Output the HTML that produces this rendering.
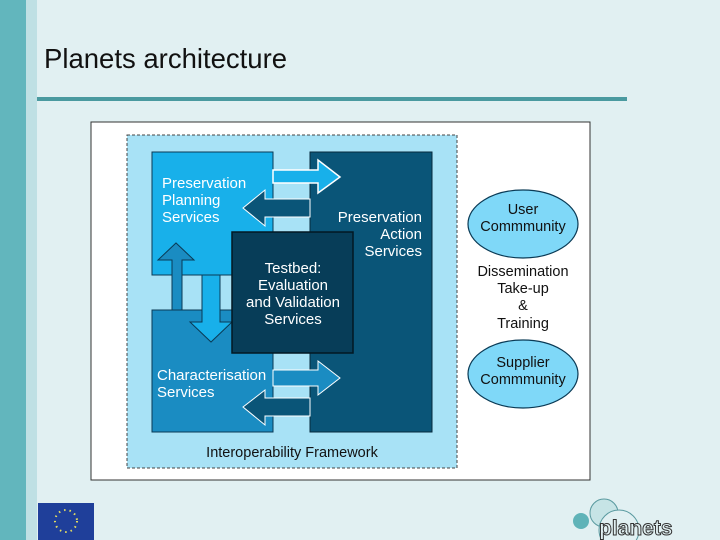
<!DOCTYPE html>
<html><head><style>
html,body{margin:0;padding:0;}
body{width:720px;height:540px;background:#e1f0f2;position:relative;overflow:hidden;font-family:"Liberation Sans",sans-serif;}
</style></head><body>
<div style="position:absolute;left:0;top:0;width:26px;height:540px;background:#62b6bd"></div>
<div style="position:absolute;left:26px;top:0;width:11px;height:540px;background:#bfe0e4"></div>
<div style="position:absolute;left:44px;top:43px;font-size:27.5px;color:#111">Planets architecture</div>
<div style="position:absolute;left:37px;top:97px;width:590px;height:4px;background:#4a9aa0"></div>
<svg style="position:absolute;left:0;top:0" width="720" height="540" font-family="Liberation Sans, sans-serif">
<rect x="91" y="122" width="499" height="358" fill="#fff" stroke="#333" stroke-width="1"/>
<rect x="127" y="135" width="330" height="333" fill="#a8e2f6" stroke="#444" stroke-width="1" stroke-dasharray="3,2"/>
<path d="M152 152 H273 V232 H232 V275 H152 Z" fill="#18b0ea" stroke="#0a3a55" stroke-width="1"/>
<path d="M152 310 H232 V353 H273 V432 H152 Z" fill="#1a8cc2" stroke="#0a3a55" stroke-width="1"/>
<rect x="310" y="152" width="122" height="280" fill="#0a5578" stroke="#062a3d" stroke-width="1"/>
<path d="M273 170 H318 V160 L340 177 L318 193 V183 H273 Z" fill="#18b0ea" stroke="#fff" stroke-width="1.5"/>
<path d="M310 199 H265 V190 L243 208 L265 226 V217 H310 Z" fill="#0a5578" stroke="#fff" stroke-width="1"/>
<path d="M273 370 H318 V361 L340 378 L318 395 V386 H273 Z" fill="#1a8cc2" stroke="#fff" stroke-width="1"/>
<path d="M310 398 H265 V390 L243 407 L265 425 V416 H310 Z" fill="#0a5578" stroke="#fff" stroke-width="1"/>
<path d="M172 310 V260 H158 L176 243 L194 260 H182 V310 Z" fill="#1a8cc2" stroke="#0a3a55" stroke-width="1"/>
<path d="M202 275 V322 H190 L211 342 L232 322 H220 V275 Z" fill="#18b0ea" stroke="#0a3a55" stroke-width="1"/>
<rect x="232" y="232" width="121" height="121" fill="#073d58" stroke="#021822" stroke-width="1.5"/>
<g fill="#fff" font-size="15">
<text x="162" y="188">Preservation</text>
<text x="162" y="205">Planning</text>
<text x="162" y="222">Services</text>
<text x="422" y="222" text-anchor="end">Preservation</text>
<text x="422" y="239" text-anchor="end">Action</text>
<text x="422" y="256" text-anchor="end">Services</text>
<text x="293" y="273" text-anchor="middle">Testbed:</text>
<text x="293" y="290" text-anchor="middle">Evaluation</text>
<text x="293" y="307" text-anchor="middle">and Validation</text>
<text x="293" y="324" text-anchor="middle">Services</text>
<text x="157" y="380">Characterisation</text>
<text x="157" y="397">Services</text>
</g>
<text x="292" y="457" text-anchor="middle" font-size="14.5" fill="#111">Interoperability Framework</text>
<ellipse cx="523" cy="224" rx="55" ry="34" fill="#7fd8f8" stroke="#0a3a55" stroke-width="1.2"/>
<ellipse cx="523" cy="374" rx="55" ry="34" fill="#7fd8f8" stroke="#0a3a55" stroke-width="1.2"/>
<g font-size="14.5" fill="#111" text-anchor="middle">
<text x="523" y="214">User</text>
<text x="523" y="231">Commmunity</text>
<text x="523" y="276">Dissemination</text>
<text x="523" y="293">Take-up</text>
<text x="523" y="310">&amp;</text>
<text x="523" y="328">Training</text>
<text x="523" y="367">Supplier</text>
<text x="523" y="384">Commmunity</text>
</g>
<rect x="38" y="503" width="56" height="37" fill="#1f3f9a"/>
<circle cx="66" cy="521" r="11" fill="none" stroke="#e8e060" stroke-width="2" stroke-dasharray="1.5,4"/>
<circle cx="581" cy="521" r="8" fill="#5fb3b8"/>
<circle cx="604" cy="513" r="14" fill="#c6e4e6" stroke="#5a9aa0"/>
<circle cx="619" cy="530" r="20" fill="#e1f0f2" stroke="#5a9aa0"/>
<text x="599" y="535" font-size="21" font-weight="bold" fill="#e1f0f2" stroke="#333" stroke-width="1">planets</text>
</svg>
</body></html>
